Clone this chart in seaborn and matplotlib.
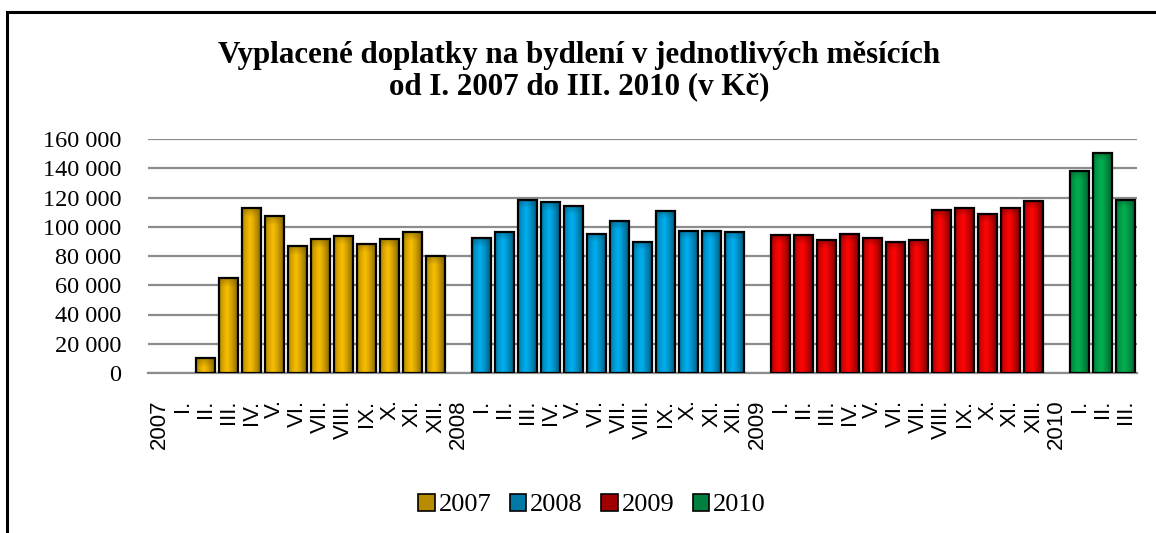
import numpy as np
import pandas as pd
import matplotlib
matplotlib.use("Agg")
import matplotlib.pyplot as plt
import seaborn as sns
from matplotlib.patches import Patch, Rectangle
from matplotlib.ticker import FuncFormatter, MultipleLocator
from matplotlib.colors import to_rgb

# ---- data ----
years = ["2007", "2008", "2009", "2010"]
months = ["I.", "II.", "III.", "IV.", "V.", "VI.", "VII.", "VIII.", "IX.", "X.", "XI.", "XII."]
v2007 = [np.nan, 10000, 64700, 112600, 107100, 86600, 91600, 93900, 88400, 91600, 96200, 80000]
v2008 = [92300, 96500, 118400, 116800, 114300, 95100, 103800, 89800, 111100, 97100, 97400, 96700]
v2009 = [94600, 94200, 90700, 95100, 92600, 89800, 91200, 111300, 112900, 109000, 112900, 117900]
v2010 = [137800, 150600, 118600]
series = [v2007, v2008, v2009, v2010]

bright_cols = ["#F7BD00", "#00AEEF", "#FF0505", "#00B050"]
dark_cols = ["#7A5C00", "#00506E", "#6A0000", "#00582A"]
legend_cols = ["#B98C00", "#0079A6", "#A00000", "#008040"]

title = "Vyplacené doplatky na bydlení v jednotlivých měsících\nod I. 2007 do III. 2010 (v Kč)"

# ---- build table ----
rows = []
labels = []
for y, vals in zip(years, series):
    rows.append({"pos": len(labels), "value": np.nan, "year": y})
    labels.append(y)
    for m, v in zip(months, vals):
        rows.append({"pos": len(labels), "value": v, "year": y})
        labels.append(m)
df = pd.DataFrame(rows)

# ---- figure ----
sns.set_style("white")
plt.rcParams["text.color"] = "black"
plt.rcParams["xtick.color"] = "black"
plt.rcParams["ytick.color"] = "black"
fig = plt.figure(figsize=(11.56, 5.33), dpi=100)
ax = fig.add_axes([148 / 1156, 1 - 373 / 533, (1137 - 148) / 1156, (373 - 139) / 533])

palette = dict(zip(years, bright_cols))
sns.barplot(data=df, x="pos", y="value", hue="year", order=list(range(len(labels))),
            hue_order=years, palette=palette, dodge=False, width=0.8, ax=ax, saturation=1,
            legend=False, edgecolor="black", linewidth=1.6, errorbar=None, zorder=3)

# gradient fill of bars
def grad_image(bright, dark, h_frac_top):
    b = np.array(to_rgb(bright)); d = np.array(to_rgb(dark))
    nx, ny = 64, 200
    t = np.linspace(0, 1, nx)
    prof = np.where(t < 0.42, 0.3 + 0.7 * (t / 0.42) ** 0.6, 1 - 0.9 * ((t - 0.42) / 0.58) ** 1.3)
    prof = np.clip(prof, 0, 1)
    yy = np.linspace(0, 1, ny)[:, None]  # 0 bottom -> 1 top
    top = np.clip((yy - (1 - h_frac_top)) / max(h_frac_top, 1e-6), 0, 1)
    pv = prof[None, :] * (1 - 0.5 * top)
    img = d[None, None, :] + (b - d)[None, None, :] * pv[:, :, None]
    return img

brights = np.array([to_rgb(c) for c in bright_cols])
for p in list(ax.patches):
    h = p.get_height()
    if not np.isfinite(h) or h <= 0:
        continue
    fc = np.array(p.get_facecolor()[:3])
    idx = int(np.argmin(((brights - fc) ** 2).sum(axis=1)))
    x0 = p.get_x(); w = p.get_width()
    frac = min(1.0, 6000 / h)
    img = grad_image(bright_cols[idx], dark_cols[idx], frac)
    im = ax.imshow(img, extent=[x0, x0 + w, 0, h], origin="lower", aspect="auto",
                   zorder=2.9, interpolation="bilinear")
    im.set_clip_path(p)
    p.set_facecolor("none")

ax.set_xlim(-0.5, len(labels) - 0.5)
ax.set_ylim(0, 160000)

# axes styling
ax.yaxis.set_major_locator(MultipleLocator(20000))
ax.yaxis.set_major_formatter(FuncFormatter(lambda v, _: f"{int(v):,}".replace(",", " ")))
ax.grid(axis="y", color="#8C8C8C", linewidth=1.6, zorder=0)
ax.set_axisbelow(True)
for s in ["top", "right", "left"]:
    ax.spines[s].set_visible(False)
ax.spines["bottom"].set_color("#8C8C8C")
ax.spines["bottom"].set_linewidth(1.6)
ax.set_xlabel("")
ax.set_ylabel("")
ax.set_xticks(range(len(labels)))
ax.set_xticklabels(labels, rotation=90, fontfamily="Liberation Sans", fontsize=16, color="black")
ax.tick_params(axis="x", length=0, pad=19)
ax.tick_params(axis="y", length=0, pad=19)
for t in ax.get_yticklabels():
    t.set_fontfamily("Liberation Serif")
    t.set_fontsize(17.5)
    t.set_color("black")

# title
fig.text(0.501, 1 - 71 / 533, title, ha="center", va="center", fontfamily="Liberation Serif",
         fontweight="bold", fontsize=22.3, linespacing=1.08, color="black")

# legend
handles = [Patch(facecolor=c, edgecolor="black", linewidth=1.2, label=y)
           for c, y in zip(legend_cols, years)]
fig.legend(handles=handles, loc="center", bbox_to_anchor=(592 / 1156, 1 - 505 / 533), ncol=4,
           frameon=False, prop={"family": "Liberation Serif", "size": 19},
           handlelength=0.62, handleheight=0.62, handletextpad=0.15, columnspacing=0.7,
           labelcolor="black")

# outer frame (left and top edges visible)
fig.add_artist(Rectangle((7 / 1156, -0.1), 1.2, 1.1 - 12 / 533, transform=fig.transFigure,
                         fill=False, edgecolor="black", linewidth=2.2))

fig.savefig("out.png", dpi=100)
